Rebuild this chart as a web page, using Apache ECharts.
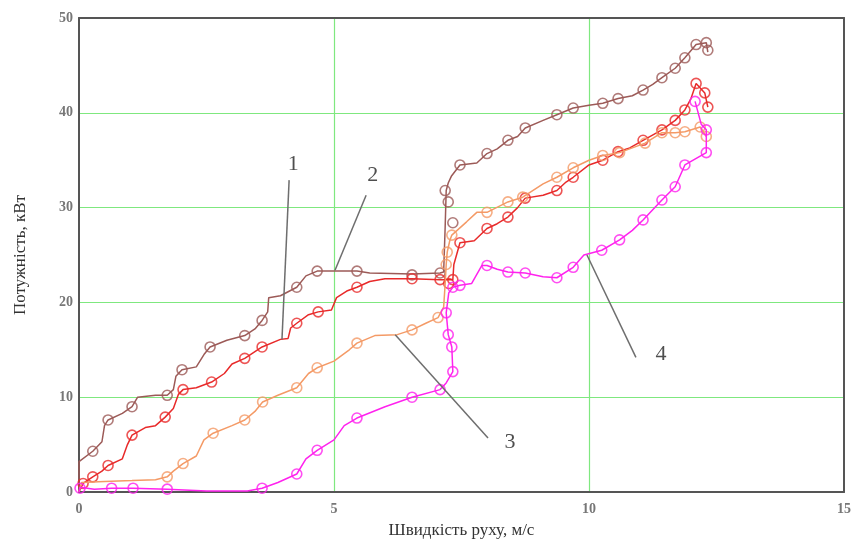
<!DOCTYPE html>
<html>
<head>
<meta charset="utf-8">
<script src="https://cdn.jsdelivr.net/npm/echarts@6/dist/echarts.min.js"></script>
<style>html,body{margin:0;padding:0;background:#fff}#c{width:863px;height:545px}</style>
</head>
<body>
<div id="c"></div>
<script>
// x: speed, m/s ; y: power, kW
const xTicks = [0, 5, 10, 15];
const yTicks = [0, 10, 20, 30, 40, 50];

const path1 = [[0,0],[0,3.2],[0.27,4.3],[0.45,5.3],[0.5,7.0],[0.57,7.6],[0.85,8.3],[1.04,9.0],[1.15,10],[1.5,10.2],[1.73,10.2],[1.85,10.8],[1.9,12.2],[2.02,12.9],[2.3,13.2],[2.45,14.5],[2.57,15.3],[2.9,16],[3.25,16.5],[3.45,17.2],[3.59,18.1],[3.7,19],[3.72,20.5],[3.95,20.7],[4.27,21.6],[4.45,22.8],[4.67,23.3],[5.45,23.3],[5.7,23.1],[6.53,23.0],[7.08,23.1],[7.15,23.2],[7.18,28],[7.2,31.8],[7.24,32.6],[7.3,33.3],[7.47,34.5],[7.8,34.7],[8.0,35.7],[8.2,36.2],[8.41,37.1],[8.6,37.5],[8.75,38.4],[9.1,39.2],[9.37,39.8],[9.69,40.5],[10.0,40.8],[10.27,41.0],[10.57,41.5],[10.85,41.8],[11.06,42.4],[11.25,43.0],[11.43,43.7],[11.69,44.7],[11.88,45.8],[12.1,47.2],[12.3,47.4],[12.33,46.4]];
const marks1 = [[0.27,4.3],[0.57,7.6],[1.04,9.0],[1.73,10.2],[2.02,12.9],[2.57,15.3],[3.25,16.5],[3.59,18.1],[4.27,21.6],[4.67,23.3],[5.45,23.3],[6.53,22.9],[7.08,23.1],[7.33,28.4],[7.24,30.6],[7.18,31.8],[7.47,34.5],[8.0,35.7],[8.41,37.1],[8.75,38.4],[9.37,39.8],[9.69,40.5],[10.27,41.0],[10.57,41.5],[11.06,42.4],[11.43,43.7],[11.69,44.7],[11.88,45.8],[12.1,47.2],[12.3,47.4],[12.33,46.6]];

const path2 = [[0,0],[0.08,0.9],[0.27,1.6],[0.45,2.2],[0.57,2.8],[0.85,3.5],[0.95,5],[1.04,6.0],[1.3,6.8],[1.5,7.0],[1.69,7.9],[1.85,8.8],[1.95,10.3],[2.04,10.8],[2.3,11.0],[2.6,11.6],[2.85,12.5],[3.0,13.5],[3.25,14.1],[3.59,15.3],[3.95,16.1],[4.1,16.2],[4.15,17.3],[4.27,17.8],[4.5,18.7],[4.69,19.0],[4.95,19.2],[5.05,20.5],[5.25,21.2],[5.45,21.6],[5.7,22.2],[6.0,22.5],[6.53,22.5],[7.08,22.4],[7.2,22.4],[7.33,22.4],[7.35,24],[7.47,26.3],[7.75,26.5],[8.0,27.8],[8.2,28.3],[8.41,29.0],[8.6,30],[8.75,31.0],[9.1,31.3],[9.37,31.8],[9.55,32.7],[9.69,33.2],[10.0,34.5],[10.27,35.0],[10.57,35.9],[10.8,36.3],[11.06,37.1],[11.43,38.2],[11.69,39.2],[11.88,40.3],[12.0,41.5],[12.1,43.1],[12.27,42.1],[12.33,40.6]];
const marks2 = [[0.08,0.9],[0.27,1.6],[0.57,2.8],[1.04,6.0],[1.69,7.9],[2.04,10.8],[2.6,11.6],[3.25,14.1],[3.59,15.3],[4.27,17.8],[4.69,19.0],[5.45,21.6],[6.53,22.5],[7.08,22.4],[7.25,22.0],[7.33,22.4],[7.47,26.3],[8.0,27.8],[8.41,29.0],[8.75,31.0],[9.37,31.8],[9.69,33.2],[10.27,35.0],[10.57,35.9],[11.06,37.1],[11.43,38.2],[11.69,39.2],[11.88,40.3],[12.1,43.1],[12.27,42.1],[12.33,40.6]];

const path3 = [[0,0],[0.05,1.0],[0.5,1.1],[1.04,1.2],[1.5,1.3],[1.73,1.6],[1.85,2.2],[2.04,3.0],[2.3,3.8],[2.45,5.5],[2.63,6.2],[3.0,7.0],[3.25,7.6],[3.45,8.5],[3.6,9.5],[3.9,10.2],[4.27,11.0],[4.5,12.5],[4.67,13.1],[5.0,13.8],[5.3,15.0],[5.45,15.7],[5.8,16.5],[6.24,16.6],[6.53,17.1],[6.8,17.8],[7.04,18.4],[7.15,19.5],[7.18,22],[7.2,24.0],[7.22,25.3],[7.27,26.5],[7.31,27.1],[7.6,28.5],[7.8,29.5],[8.0,29.5],[8.41,30.6],[8.7,31.1],[9.1,32.5],[9.37,33.2],[9.69,34.2],[10.0,35.0],[10.27,35.5],[10.6,35.8],[11.1,36.8],[11.43,37.9],[11.69,37.9],[11.88,38.0],[12.18,38.5],[12.3,37.5]];
const marks3 = [[1.73,1.6],[2.04,3.0],[2.63,6.2],[3.25,7.6],[3.6,9.5],[4.27,11.0],[4.67,13.1],[5.45,15.7],[6.53,17.1],[7.04,18.4],[7.2,24.0],[7.22,25.3],[7.31,27.1],[8.0,29.5],[8.41,30.6],[8.7,31.1],[9.37,33.2],[9.69,34.2],[10.27,35.5],[10.6,35.8],[11.1,36.8],[11.43,37.9],[11.69,37.9],[11.88,38.0],[12.18,38.5],[12.3,37.5]];

const path4 = [[0,0],[0.02,0.5],[0.3,0.3],[0.64,0.4],[1.06,0.4],[1.73,0.3],[2.5,0.1],[3.3,0.1],[3.59,0.4],[3.9,1.0],[4.27,1.9],[4.45,3.5],[4.67,4.4],[5.0,5.5],[5.2,7.0],[5.45,7.8],[6.0,9.0],[6.53,10.0],[7.08,10.8],[7.2,11.5],[7.33,12.7],[7.31,15.3],[7.24,16.6],[7.2,18.9],[7.25,21.0],[7.33,21.6],[7.47,21.8],[7.7,22.0],[7.9,23.9],[8.0,23.9],[8.2,23.5],[8.41,23.2],[8.75,23.1],[9.1,22.7],[9.37,22.6],[9.69,23.7],[9.9,25.0],[10.25,25.5],[10.6,26.6],[10.85,27.6],[11.06,28.7],[11.43,30.8],[11.69,32.2],[11.88,34.5],[12.3,35.8],[12.3,38.2],[12.2,38.8],[12.08,41.2]];
const marks4 = [[0.02,0.4],[0.64,0.4],[1.06,0.4],[1.73,0.3],[3.59,0.4],[4.27,1.9],[4.67,4.4],[5.45,7.8],[6.53,10.0],[7.08,10.8],[7.33,12.7],[7.31,15.3],[7.24,16.6],[7.2,18.9],[7.33,21.6],[7.47,21.8],[8.0,23.9],[8.41,23.2],[8.75,23.1],[9.37,22.6],[9.69,23.7],[10.25,25.5],[10.6,26.6],[11.06,28.7],[11.43,30.8],[11.69,32.2],[11.88,34.5],[12.3,35.8],[12.3,38.2],[12.08,41.2]];

// leader lines and curve numbers
const leaderLabels = ['1', '2', '3', '4'];
const leaderLines = [
  [[4.12,32.9],[3.98,16.1]],
  [[5.63,31.3],[5.02,23.4]],
  [[6.2,16.6],[8.02,5.7]],
  [[9.96,25.0],[10.92,14.2]]
];
const labelPos = [[4.2,34.6],[5.76,33.4],[8.45,5.2],[11.41,14.5]];

const colors = ['#9c5a57', '#e82a2a', '#f49a66', '#ff22ee'];
const paths = [path1, path2, path3, path4];
const marks = [marks1, marks2, marks3, marks4];

const series = [];
paths.forEach((p, i) => {
  series.push({
    type: 'line', data: p, showSymbol: false, symbol: 'none',
    lineStyle: { color: colors[i], width: 1.5 }, z: 3 + i, silent: true
  });
  series.push({
    type: 'scatter', data: marks[i], symbol: 'circle', symbolSize: 10,
    itemStyle: { color: 'rgba(255,255,255,0)', borderColor: colors[i], borderWidth: 1.6 },
    z: 3 + i, silent: true
  });
});
leaderLines.forEach(l => {
  series.push({
    type: 'line', data: l, symbol: 'none',
    lineStyle: { color: '#6e6e6e', width: 1.5 }, z: 10, silent: true
  });
});
series.push({
  type: 'scatter', symbolSize: 0, z: 11, silent: true,
  data: labelPos.map((p, i) => ({ value: p, name: leaderLabels[i] })),
  label: {
    show: true, position: 'inside', formatter: d => d.name,
    fontFamily: 'Liberation Serif', fontSize: 22, color: '#222'
  }
});

const frameAxis = {
  type: 'value', axisLine: { show: true, onZero: false, lineStyle: { color: '#555', width: 2 } },
  axisTick: { show: false }, axisLabel: { show: false }, splitLine: { show: false }
};

const chart = echarts.init(document.getElementById('c'), null, { renderer: 'canvas' });
chart.setOption({
  animation: false,
  backgroundColor: '#ffffff',
  grid: { left: 79, right: 19, top: 18, bottom: 53 },
  xAxis: [{
    type: 'value', min: 0, max: 15, interval: 5,
    name: 'Швидкість руху, м/с', nameLocation: 'middle', nameGap: 30,
    nameTextStyle: { fontFamily: 'Liberation Serif', fontSize: 17, color: '#333' },
    axisLine: { show: true, onZero: false, lineStyle: { color: '#555', width: 2 } },
    axisTick: { show: false },
    axisLabel: { fontFamily: 'Liberation Serif', fontSize: 14, color: '#777', fontWeight: 'bold', margin: 10,
      formatter: v => xTicks.includes(v) ? String(v) : '' },
    splitLine: { show: true, showMinLine: false, showMaxLine: false, lineStyle: { color: '#7fe87f', width: 1.2 } }
  }, Object.assign({}, frameAxis, { position: 'top', min: 0, max: 15 })],
  yAxis: [{
    type: 'value', min: 0, max: 50, interval: 10,
    name: 'Потужність, кВт', nameLocation: 'middle', nameGap: 50,
    nameTextStyle: { fontFamily: 'Liberation Serif', fontSize: 17, color: '#333' },
    axisLine: { show: true, onZero: false, lineStyle: { color: '#555', width: 2 } },
    axisTick: { show: false },
    axisLabel: { fontFamily: 'Liberation Serif', fontSize: 14, color: '#777', fontWeight: 'bold', margin: 6,
      formatter: v => yTicks.includes(v) ? String(v) : '' },
    splitLine: { show: true, showMinLine: false, showMaxLine: false, lineStyle: { color: '#7fe87f', width: 1.2 } }
  }, Object.assign({}, frameAxis, { position: 'right', min: 0, max: 50 })],
  series: series
});
</script>
</body>
</html>
